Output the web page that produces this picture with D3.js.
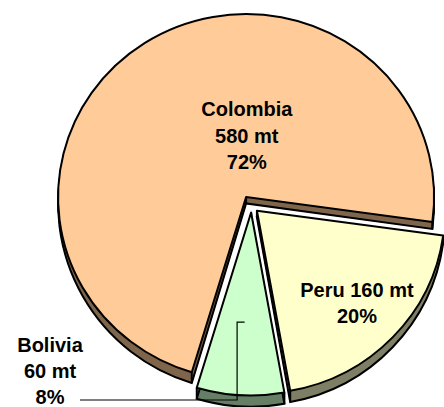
<!DOCTYPE html>
<html lang="en">
<head>
  <meta charset="UTF-8">
  <title>Coca leaf production</title>
  <script src="https://d3js.org/d3.v7.min.js"></script>
  <style>
    body { margin: 0; background: #fff; }
    svg { display: block; }
    .label { font: bold 20px "Liberation Sans", Arial, sans-serif; fill: #000; }
    .leader { fill: none; stroke: #000; stroke-width: 1.2px; }
  </style>
</head>
<body>
  <script>
    // data
    const countries = ["Colombia", "Peru", "Bolivia"];
    const tonnes = [580, 160, 60];
    const shares = ["72%", "20%", "8%"];
    const topColors = ["#FFCC99", "#FFFFCC", "#CCFFCC"];
    const sideColors = ["#7F664C", "#7F7F66", "#667F66"];

    // layout
    const width = 444, height = 407;
    const cx = 251.5, cy = 205.5;
    const rx = 188, ry = 183;
    const k = ry / rx;
    const explode = [10, 7.5, 7];
    const startDeg = 196.8;
    // depth grows towards the front: d(y) = a + b*y
    const depthA = 1.4, depthB = 0.025;
    const layers = 14;

    const svg = d3.select("body").append("svg")
      .attr("width", width)
      .attr("height", height);

    const pie = d3.pie()
      .sort(null)
      .startAngle(startDeg * Math.PI / 180)
      .endAngle(startDeg * Math.PI / 180 + 2 * Math.PI);

    const arcs = pie(tonnes);
    const arc = d3.arc().innerRadius(0).outerRadius(rx);

    const centers = arcs.map((d, i) => {
      const mid = (d.startAngle + d.endAngle) / 2;
      return [cx + explode[i] * Math.sin(mid), cy - explode[i] * Math.cos(mid)];
    });

    function placed(i, t) {
      const [x, y] = centers[i];
      return `matrix(1,0,0,${1 + t * depthB},0,${t * depthA}) translate(${x},${y}) scale(1,${k})`;
    }

    function screenPt(i, ang, r) {
      const [x, y] = centers[i];
      return [x + r * Math.sin(ang), y - r * Math.cos(ang) * k];
    }

    arcs.forEach((d, i) => {
      const g = svg.append("g");

      // extrusion
      d3.range(layers, 0, -1).forEach(j => {
        g.append("path")
          .attr("d", arc(d))
          .attr("transform", placed(i, j / layers))
          .attr("fill", sideColors[i])
          .attr("stroke", sideColors[i])
          .attr("stroke-width", 1)
          .attr("vector-effect", "non-scaling-stroke");
      });
      g.append("path")
        .attr("d", arc(d))
        .attr("transform", placed(i, 1))
        .attr("fill", "none")
        .attr("stroke", "#000")
        .attr("stroke-width", 2)
        .attr("vector-effect", "non-scaling-stroke");

      // vertical edges
      [[d.startAngle, 0], [d.startAngle, rx], [d.endAngle, rx]].forEach(([a, r]) => {
        const [px, py] = screenPt(i, a, r);
        g.append("line")
          .attr("x1", px).attr("y1", py)
          .attr("x2", px).attr("y2", py + depthA + depthB * py)
          .attr("stroke", "#000")
          .attr("stroke-width", 2);
      });

      // top face
      g.append("path")
        .attr("d", arc(d))
        .attr("transform", placed(i, 0))
        .attr("fill", topColors[i])
        .attr("stroke", "#000")
        .attr("stroke-width", 2)
        .attr("stroke-linejoin", "round")
        .attr("vector-effect", "non-scaling-stroke");
    });

    const lineH = 26.5;

    // Colombia label
    svg.append("text")
      .attr("class", "label")
      .attr("text-anchor", "middle")
      .selectAll("tspan")
      .data([countries[0], tonnes[0] + " mt", shares[0]])
      .join("tspan")
      .attr("x", centers[0][0] + 0.7)
      .attr("y", (s, j) => 116 + j * lineH)
      .text(s => s);

    // Peru label
    svg.append("text")
      .attr("class", "label")
      .attr("text-anchor", "middle")
      .selectAll("tspan")
      .data([countries[1] + " " + tonnes[1] + " mt", shares[1]])
      .join("tspan")
      .attr("x", centers[1][0] + 100)
      .attr("y", (s, j) => 297 + j * 26)
      .text(s => s);

    // Bolivia label (outside, with leader)
    svg.append("text")
      .attr("class", "label")
      .attr("text-anchor", "middle")
      .selectAll("tspan")
      .data([countries[2], tonnes[2] + " mt", shares[2]])
      .join("tspan")
      .attr("x", 50)
      .attr("y", (s, j) => 352 + j * 26)
      .text(s => s);

    const b = arcs[2];
    const [ax, ay] = screenPt(2, (b.startAngle + b.endAngle) / 2, rx * 0.6);
    svg.append("path")
      .attr("class", "leader")
      .attr("d", d3.line()([[ax, ay], [ax - 7.5, ay], [ax - 7.5, 400], [80, 400]]));
  </script>
</body>
</html>
